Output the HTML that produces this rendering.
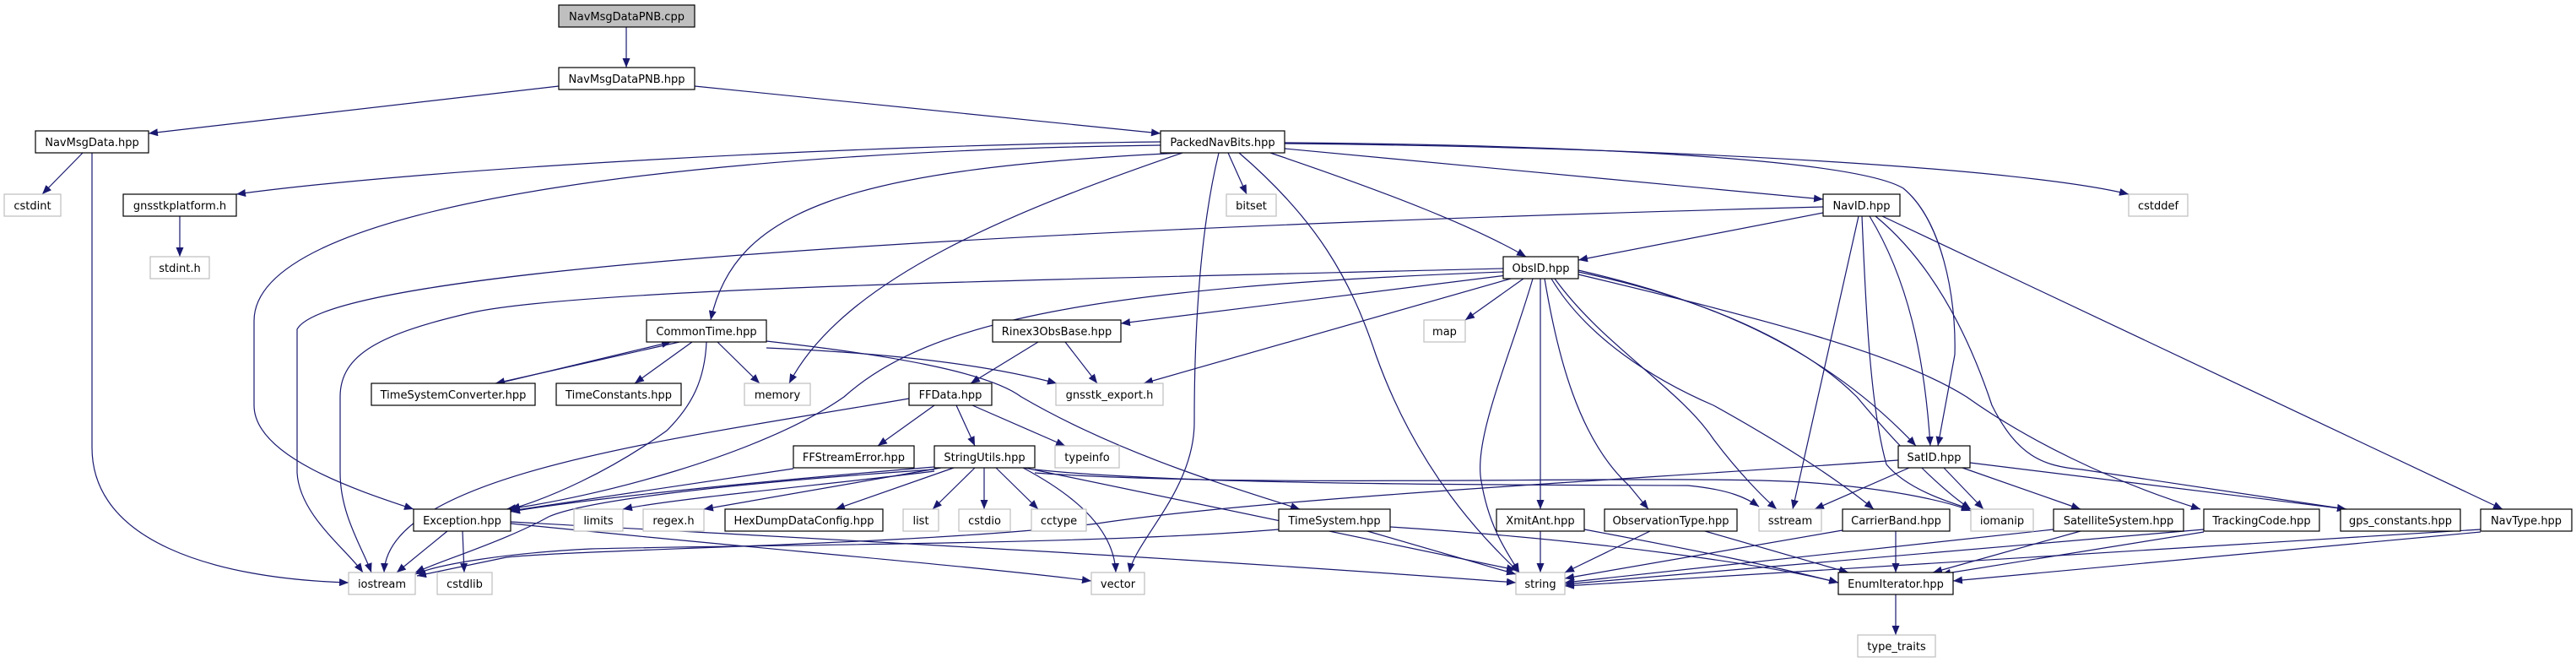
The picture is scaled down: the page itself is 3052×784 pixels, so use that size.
<!DOCTYPE html>
<html><head><meta charset="utf-8"><style>
html,body{margin:0;padding:0;background:#fff;}
svg{display:block;}
text{font-family:"DejaVu Sans","Liberation Sans",sans-serif;font-size:13px;fill:#000;}
.e{fill:none;stroke:#191970;stroke-width:1.2;marker-end:url(#a);}
.b{fill:#fff;stroke:#000;stroke-width:1.2;}
.g{fill:#fff;stroke:#bfbfbf;stroke-width:1.2;}
</style></head><body>
<svg width="3052" height="784" viewBox="0 0 3052 784" xmlns="http://www.w3.org/2000/svg">
<defs><marker id="a" markerUnits="userSpaceOnUse" markerWidth="12" markerHeight="9" refX="11" refY="4.5" orient="auto"><path d="M0,0 L11,4.5 L0,9 z" fill="#191970"/></marker></defs>
<g>
<path class="e" d="M742,32 L742,80"/>
<path class="e" d="M662,102 L176,158"/>
<path class="e" d="M823,102 L1375,158"/>
<path class="e" d="M98,181 L50,230"/>
<path class="e" d="M109,181 L109,530 C109,640 250,685 413,690"/>
<path class="e" d="M1375,168 C1000,172 500,200 280,230"/>
<path class="e" d="M1375,172 C900,178 301,230 301,380 L301,480 C301,540 420,580 490,603"/>
<path class="e" d="M1400,181 C1000,200 870,250 842,379"/>
<path class="e" d="M1401,181 C1200,250 1000,330 935,454"/>
<path class="e" d="M1455,181 L1477,230"/>
<path class="e" d="M1444,181 C1420,280 1415,400 1415,500 C1415,580 1345,640 1338,678"/>
<path class="e" d="M1468,181 C1560,260 1600,330 1630,420 C1680,560 1760,640 1800,678"/>
<path class="e" d="M1505,181 C1650,230 1750,270 1808,304"/>
<path class="e" d="M1522,176 L2160,236"/>
<path class="e" d="M1522,169 C1900,172 2200,190 2255,223 C2300,260 2318,350 2316,420 L2296,528"/>
<path class="e" d="M1522,170 C2000,175 2400,200 2522,230"/>
<path class="e" d="M213,256 L213,304"/>
<path class="e" d="M2160,252 L1870,308"/>
<path class="e" d="M2160,245 C1600,260 400,300 352,390 L352,560 C355,610 410,650 430,678"/>
<path class="e" d="M2202,256 L2124,603"/>
<path class="e" d="M2206,256 C2210,350 2215,480 2235,550 C2260,580 2310,595 2335,603"/>
<path class="e" d="M2215,256 C2260,330 2280,420 2287,528"/>
<path class="e" d="M2222,256 C2300,320 2340,420 2360,480 C2390,540 2420,552 2466,556 L2780,603"/>
<path class="e" d="M2230,256 L2965,603"/>
<path class="e" d="M1781,318 C1300,330 700,340 560,370 C450,395 403,420 403,470 L403,560 C403,610 430,650 440,678"/>
<path class="e" d="M1781,322 C1300,340 1100,380 1000,470 C900,540 700,590 600,603"/>
<path class="e" d="M1785,326 L1328,383"/>
<path class="e" d="M1790,330 L1355,454"/>
<path class="e" d="M1805,330 L1736,379"/>
<path class="e" d="M1816,330 C1790,420 1745,520 1755,570 C1765,630 1790,660 1800,678"/>
<path class="e" d="M1825,330 L1825,603"/>
<path class="e" d="M1830,330 C1845,420 1870,520 1930,575 L1953,603"/>
<path class="e" d="M1838,330 C1880,400 1960,450 2030,480 C2120,530 2180,570 2220,603"/>
<path class="e" d="M1842,330 C1900,410 1990,460 2030,520 C2060,560 2090,590 2105,603"/>
<path class="e" d="M1870,320 C2000,350 2150,400 2270,528"/>
<path class="e" d="M1870,322 C2050,360 2150,420 2200,470 C2250,530 2300,580 2335,603"/>
<path class="e" d="M1870,325 C2100,380 2250,420 2330,470 C2400,520 2500,570 2607,603"/>
<path class="e" d="M805,405 L587,454"/>
<path class="e" d="M590,454 L795,405"/>
<path class="e" d="M820,405 L752,454"/>
<path class="e" d="M850,405 L900,454"/>
<path class="e" d="M837,405 C835,450 820,480 790,510 C720,560 650,590 605,603"/>
<path class="e" d="M908,412 C1100,420 1200,440 1252,454"/>
<path class="e" d="M908,404 C1050,420 1170,440 1210,470 C1330,540 1470,580 1540,603"/>
<path class="e" d="M1230,405 L1150,454"/>
<path class="e" d="M1262,405 L1300,454"/>
<path class="e" d="M1107,480 L1040,528"/>
<path class="e" d="M1133,480 L1155,528"/>
<path class="e" d="M1152,480 L1262,528"/>
<path class="e" d="M1077,472 C800,520 460,560 455,678"/>
<path class="e" d="M940,555 L605,605"/>
<path class="e" d="M1107,553 C900,570 700,590 605,606"/>
<path class="e" d="M1107,556 C900,570 700,590 650,612 C600,640 520,665 492,678"/>
<path class="e" d="M1107,558 C1000,572 800,590 738,603"/>
<path class="e" d="M1115,554 L834,603"/>
<path class="e" d="M1130,554 L990,603"/>
<path class="e" d="M1155,554 L1105,603"/>
<path class="e" d="M1166,554 L1166,603"/>
<path class="e" d="M1180,554 L1230,603"/>
<path class="e" d="M1212,554 C1280,590 1320,630 1322,678"/>
<path class="e" d="M1214,554 L1796,675"/>
<path class="e" d="M1226,556 C1400,575 1800,574 2000,575 C2050,580 2070,590 2084,600"/>
<path class="e" d="M1226,560 C1500,580 2000,560 2150,572 C2250,580 2310,595 2335,605"/>
<path class="e" d="M530,629 L470,678"/>
<path class="e" d="M548,629 L550,678"/>
<path class="e" d="M605,620 C900,650 1150,670 1293,688"/>
<path class="e" d="M605,618 C1000,640 1400,660 1796,690"/>
<path class="e" d="M1515,627 C1300,645 900,645 700,650 C600,655 520,668 492,680"/>
<path class="e" d="M1620,629 L1796,680"/>
<path class="e" d="M1647,624 C1900,640 2100,670 2178,690"/>
<path class="e" d="M2249,545 C1900,570 1500,590 1300,620 C1100,645 700,650 600,660 L494,682"/>
<path class="e" d="M2262,554 L2150,603"/>
<path class="e" d="M2303,554 L2350,603"/>
<path class="e" d="M2325,554 L2465,603"/>
<path class="e" d="M2334,548 L2780,603"/>
<path class="e" d="M1825,629 L1825,678"/>
<path class="e" d="M1877,627 C2000,650 2100,670 2178,690"/>
<path class="e" d="M1955,629 L1854,678"/>
<path class="e" d="M2020,629 L2190,678"/>
<path class="e" d="M2183,628 L1854,685"/>
<path class="e" d="M2246,629 L2246,678"/>
<path class="e" d="M2433,627 L1854,690"/>
<path class="e" d="M2465,629 L2290,678"/>
<path class="e" d="M2611,627 L1854,692"/>
<path class="e" d="M2611,630 L2300,680"/>
<path class="e" d="M2939,627 L1854,694"/>
<path class="e" d="M2939,630 L2314,688"/>
<path class="e" d="M2246,704 L2246,752"/>
</g>
<g text-anchor="middle">
<rect x="662" y="6" width="161" height="26" fill="#bfbfbf" stroke="#000" stroke-width="1.2"/><text x="742.5" y="24">NavMsgDataPNB.cpp</text>
<rect class="b" x="662" y="80" width="161" height="26"/><text x="742.5" y="98">NavMsgDataPNB.hpp</text>
<rect class="b" x="42" y="155" width="134" height="26"/><text x="109" y="173">NavMsgData.hpp</text>
<rect class="b" x="1375" y="155" width="147" height="26"/><text x="1448.5" y="173">PackedNavBits.hpp</text>
<rect class="g" x="5" y="230" width="67" height="26"/><text x="38.5" y="248">cstdint</text>
<rect class="b" x="146" y="230" width="134" height="26"/><text x="213" y="248">gnsstkplatform.h</text>
<rect class="g" x="1453" y="230" width="59" height="26"/><text x="1482.5" y="248">bitset</text>
<rect class="b" x="2160" y="230" width="91" height="26"/><text x="2205.5" y="248">NavID.hpp</text>
<rect class="g" x="2522" y="230" width="70" height="26"/><text x="2557" y="248">cstddef</text>
<rect class="g" x="178" y="304" width="70" height="26"/><text x="213" y="322">stdint.h</text>
<rect class="b" x="1781" y="304" width="89" height="26"/><text x="1825.5" y="322">ObsID.hpp</text>
<rect class="b" x="766" y="379" width="142" height="26"/><text x="837" y="397">CommonTime.hpp</text>
<rect class="b" x="1176" y="379" width="152" height="26"/><text x="1252" y="397">Rinex3ObsBase.hpp</text>
<rect class="g" x="1687" y="379" width="49" height="26"/><text x="1711.5" y="397">map</text>
<rect class="b" x="440" y="454" width="194" height="26"/><text x="537" y="472">TimeSystemConverter.hpp</text>
<rect class="b" x="659" y="454" width="148" height="26"/><text x="733" y="472">TimeConstants.hpp</text>
<rect class="g" x="882" y="454" width="78" height="26"/><text x="921" y="472">memory</text>
<rect class="b" x="1077" y="454" width="98" height="26"/><text x="1126" y="472">FFData.hpp</text>
<rect class="g" x="1251" y="454" width="127" height="26"/><text x="1314.5" y="472">gnsstk_export.h</text>
<rect class="b" x="940" y="528" width="143" height="26"/><text x="1011.5" y="546">FFStreamError.hpp</text>
<rect class="b" x="1107" y="528" width="119" height="26"/><text x="1166.5" y="546">StringUtils.hpp</text>
<rect class="g" x="1250" y="528" width="76" height="26"/><text x="1288" y="546">typeinfo</text>
<rect class="b" x="2249" y="528" width="85" height="26"/><text x="2291.5" y="546">SatID.hpp</text>
<rect class="b" x="490" y="603" width="115" height="26"/><text x="547.5" y="621">Exception.hpp</text>
<rect class="g" x="680" y="603" width="58" height="26"/><text x="709" y="621">limits</text>
<rect class="g" x="762" y="603" width="72" height="26"/><text x="798" y="621">regex.h</text>
<rect class="b" x="859" y="603" width="187" height="26"/><text x="952.5" y="621">HexDumpDataConfig.hpp</text>
<rect class="g" x="1070" y="603" width="42" height="26"/><text x="1091" y="621">list</text>
<rect class="g" x="1136" y="603" width="61" height="26"/><text x="1166.5" y="621">cstdio</text>
<rect class="g" x="1222" y="603" width="65" height="26"/><text x="1254.5" y="621">cctype</text>
<rect class="b" x="1515" y="603" width="132" height="26"/><text x="1581" y="621">TimeSystem.hpp</text>
<rect class="b" x="1773" y="603" width="104" height="26"/><text x="1825" y="621">XmitAnt.hpp</text>
<rect class="b" x="1901" y="603" width="157" height="26"/><text x="1979.5" y="621">ObservationType.hpp</text>
<rect class="g" x="2084" y="603" width="74" height="26"/><text x="2121" y="621">sstream</text>
<rect class="b" x="2183" y="603" width="127" height="26"/><text x="2246.5" y="621">CarrierBand.hpp</text>
<rect class="g" x="2335" y="603" width="74" height="26"/><text x="2372" y="621">iomanip</text>
<rect class="b" x="2433" y="603" width="154" height="26"/><text x="2510" y="621">SatelliteSystem.hpp</text>
<rect class="b" x="2611" y="603" width="137" height="26"/><text x="2679.5" y="621">TrackingCode.hpp</text>
<rect class="b" x="2773" y="603" width="142" height="26"/><text x="2844" y="621">gps_constants.hpp</text>
<rect class="b" x="2939" y="603" width="108" height="26"/><text x="2993" y="621">NavType.hpp</text>
<rect class="g" x="413" y="678" width="79" height="26"/><text x="452.5" y="696">iostream</text>
<rect class="g" x="518" y="678" width="65" height="26"/><text x="550.5" y="696">cstdlib</text>
<rect class="g" x="1293" y="678" width="63" height="26"/><text x="1324.5" y="696">vector</text>
<rect class="g" x="1796" y="678" width="58" height="26"/><text x="1825" y="696">string</text>
<rect class="b" x="2178" y="678" width="136" height="26"/><text x="2246" y="696">EnumIterator.hpp</text>
<rect class="g" x="2201" y="752" width="92" height="26"/><text x="2247" y="770">type_traits</text>
</g>
</svg>
</body></html>
